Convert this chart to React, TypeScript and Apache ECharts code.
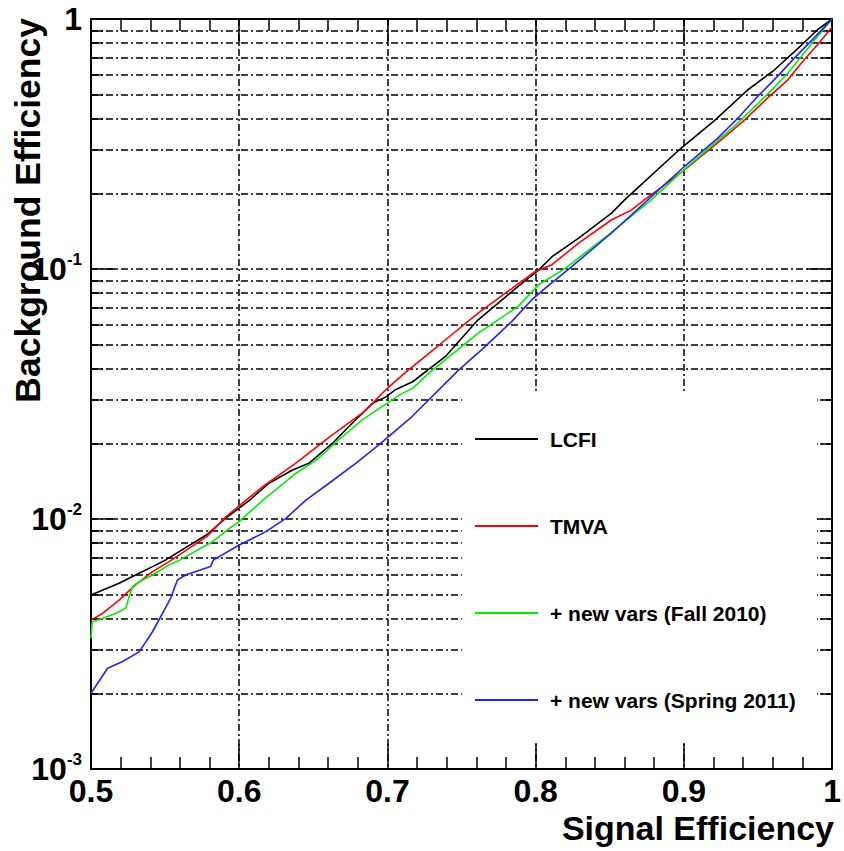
import React, { useEffect, useRef } from 'react';
import * as echarts from 'echarts';

// Signal efficiency (x) vs background efficiency (y)
const lcfi: [number, number][] = [
  [0.5, 0.00497], [0.508, 0.0052], [0.519, 0.00553], [0.530, 0.00597], [0.5415, 0.00645],
  [0.5504, 0.00686], [0.5778, 0.00863], [0.5912, 0.0101], [0.607, 0.0119], [0.620, 0.0139],
  [0.636, 0.0157], [0.647, 0.0167], [0.663, 0.0201], [0.676, 0.0241], [0.690, 0.029],
  [0.699, 0.0308], [0.705, 0.0328], [0.717, 0.0354], [0.739, 0.0446], [0.761, 0.0625],
  [0.788, 0.085], [0.802, 0.099], [0.811, 0.112], [0.829, 0.133], [0.851, 0.167],
  [0.860, 0.189], [0.898, 0.304], [0.921, 0.394], [0.943, 0.52], [0.961, 0.625],
  [0.977, 0.763], [0.990, 0.904], [1.0, 1.0],
];
const tmva: [number, number][] = [
  [0.5, 0.00394], [0.508, 0.0042], [0.519, 0.00474], [0.530, 0.00545], [0.5415, 0.00616],
  [0.553, 0.00677], [0.578, 0.0085], [0.591, 0.0102], [0.602, 0.01156], [0.616, 0.0135],
  [0.638, 0.0167], [0.661, 0.0213], [0.683, 0.0265], [0.701, 0.0338], [0.714, 0.0394],
  [0.728, 0.046], [0.739, 0.052], [0.761, 0.0665], [0.784, 0.0837], [0.7995, 0.0975],
  [0.811, 0.104], [0.829, 0.127], [0.851, 0.157], [0.8645, 0.172], [0.8734, 0.189],
  [0.900, 0.248], [0.923, 0.32], [0.941, 0.395], [0.956, 0.48], [0.970, 0.57],
  [0.981, 0.686], [0.990, 0.787], [0.9966, 0.877], [1.0, 0.93],
];
const fall2010: [number, number][] = [
  [0.5, 0.00333], [0.5008, 0.00388], [0.508, 0.00401], [0.517, 0.0042], [0.5235, 0.0044],
  [0.5257, 0.00489], [0.528, 0.00536], [0.5325, 0.00561], [0.5415, 0.00597], [0.5526, 0.00655],
  [0.560, 0.00686], [0.582, 0.00811], [0.5934, 0.00918], [0.600, 0.00976], [0.616, 0.0119],
  [0.638, 0.0152], [0.652, 0.0172], [0.667, 0.0207], [0.683, 0.0249], [0.696, 0.0281],
  [0.710, 0.0318], [0.717, 0.0333], [0.728, 0.0383], [0.739, 0.0433], [0.761, 0.0553],
  [0.788, 0.0707], [0.802, 0.0865], [0.820, 0.1006], [0.849, 0.137], [0.878, 0.189],
  [0.900, 0.249], [0.918, 0.308], [0.936, 0.382], [0.956, 0.497], [0.970, 0.607],
  [0.981, 0.729], [0.990, 0.85], [1.0, 1.0],
];
const spring2011: [number, number][] = [
  [0.5, 0.00201], [0.5112, 0.00253], [0.5213, 0.00269], [0.5325, 0.00294], [0.5415, 0.00354],
  [0.5538, 0.00483], [0.5583, 0.0057], [0.5638, 0.00597], [0.5806, 0.00645], [0.5827, 0.00686],
  [0.600, 0.00787], [0.618, 0.0089], [0.6315, 0.01006], [0.645, 0.0119], [0.6606, 0.0139],
  [0.6786, 0.0167], [0.6942, 0.0198], [0.7166, 0.0257], [0.748, 0.0394], [0.7659, 0.0489],
  [0.7838, 0.0616], [0.7973, 0.0752], [0.8063, 0.0837], [0.8241, 0.102], [0.851, 0.139],
  [0.8757, 0.189], [0.9003, 0.257], [0.9227, 0.333], [0.9362, 0.40], [0.9496, 0.489],
  [0.963, 0.588], [0.9743, 0.696], [0.9854, 0.812], [1.0, 1.0],
];

const seriesNames = ['LCFI', 'TMVA', '+ new vars (Fall 2010)', '+ new vars (Spring 2011)'];
const seriesColors = ['#000000', '#ff0000', '#00ee00', '#2222ff'];
const seriesData = [lcfi, tmva, fall2010, spring2011];

const yDecades = [0.001, 0.01, 0.1, 1];
const yMinors = [
  0.002, 0.003, 0.004, 0.005, 0.006, 0.007, 0.008, 0.009,
  0.02, 0.03, 0.04, 0.05, 0.06, 0.07, 0.08, 0.09,
  0.2, 0.3, 0.4, 0.5, 0.6, 0.7, 0.8, 0.9,
];
const xTitle = 'Signal Efficiency';
const yTitle = 'Background Efficiency';

const FONT = '"Liberation Sans", Arial, Helvetica, sans-serif';
const DASHDOT = [7, 3, 2, 3];

export default function App() {
  const ref = useRef<HTMLDivElement>(null);
  useEffect(() => {
    if (!ref.current) return;
    const chart = echarts.init(ref.current, undefined, { renderer: 'svg' });
    const frameLine = { show: true, onZero: false, lineStyle: { color: '#000', width: 2 } };
    const gridLine = { show: true, lineStyle: { color: '#000', width: 1.5, type: DASHDOT } };
    const yBase = {
      type: 'log' as const, logBase: 10, min: 0.001, max: 1,
      axisLine: frameLine,
    };
    const option: any = {
      animation: false,
      backgroundColor: '#fff',
      grid: { left: 91, top: 19, right: 9, bottom: 82, containLabel: false },
      xAxis: [
        {
          type: 'value', min: 0.5, max: 1, interval: 0.1, position: 'bottom',
          axisLine: frameLine,
          axisTick: { show: true, inside: true, length: 25, lineStyle: { color: '#000', width: 1.5 } },
          minorTick: { show: true, splitNumber: 5, length: 12, lineStyle: { color: '#000', width: 1.5 } },
          splitLine: gridLine,
          axisLabel: {
            show: true, margin: 6, color: '#000', fontFamily: FONT, fontWeight: 'bold', fontSize: 32,
            lineHeight: 32, showMinLabel: true, showMaxLabel: true,
            formatter: (v: number) => (v === 1 ? '1' : v.toFixed(1)),
          },
        },
        {
          type: 'value', min: 0.5, max: 1, interval: 0.1, position: 'top',
          axisLine: frameLine,
          axisTick: { show: true, inside: true, length: 25, lineStyle: { color: '#000', width: 1.5 } },
          minorTick: { show: true, splitNumber: 5, length: 12, lineStyle: { color: '#000', width: 1.5 } },
          splitLine: { show: false },
          axisLabel: { show: false },
        },
      ],
      yAxis: [
        {
          ...yBase, position: 'left',
          axisTick: { show: true, inside: true, length: 25, customValues: yDecades, lineStyle: { color: '#000', width: 1.5 } },
          splitLine: gridLine,
          axisLabel: {
            show: true, margin: 9, customValues: yDecades, color: '#000', fontFamily: FONT,
            fontWeight: 'bold', showMinLabel: true, showMaxLabel: true,
            formatter: (v: number) => {
              if (Math.abs(v - 1) < 1e-9) return '{b|1}';
              const e = Math.round(Math.log10(v));
              return `{b|10}{s|${e}}`;
            },
            rich: {
              b: { fontSize: 32, lineHeight: 36, fontWeight: 'bold', fontFamily: FONT, color: '#000' },
              s: { fontSize: 17, lineHeight: 28, fontWeight: 'bold', fontFamily: FONT, color: '#000', verticalAlign: 'top' },
            },
          },
        },
        {
          ...yBase, position: 'left',
          axisTick: { show: true, inside: true, length: 12, customValues: yMinors, lineStyle: { color: '#000', width: 1.5 } },
          splitLine: gridLine,
          axisLabel: { show: false, customValues: yMinors },
        },
        {
          ...yBase, position: 'right',
          axisTick: { show: true, inside: true, length: 25, customValues: yDecades, lineStyle: { color: '#000', width: 1.5 } },
          splitLine: { show: false },
          axisLabel: { show: false, customValues: yDecades },
        },
        {
          ...yBase, position: 'right',
          axisTick: { show: true, inside: true, length: 12, customValues: yMinors, lineStyle: { color: '#000', width: 1.5 } },
          splitLine: { show: false },
          axisLabel: { show: false, customValues: yMinors },
        },
      ],
      legend: {
        data: seriesNames,
        orient: 'vertical', left: 475, top: 427, padding: 0,
        icon: 'rect', itemWidth: 63, itemHeight: 2, itemGap: 63, z: 60,
        selectedMode: false,
        textStyle: { fontSize: 21, fontWeight: 'bold', fontFamily: FONT, color: '#000', lineHeight: 24, padding: [0, 0, 0, 7] },
      },
      graphic: [
        { type: 'rect', z: 50, shape: { x: 462, y: 393, width: 355, height: 350 }, style: { fill: '#fff' } },
        {
          type: 'text', x: 834, y: 828, z: 10,
          style: { text: xTitle, fill: '#000', font: `bold 34px ${FONT}`, textAlign: 'right', textVerticalAlign: 'middle' },
        },
        {
          type: 'text', x: 28, y: 18, rotation: Math.PI / 2, z: 10,
          style: { text: yTitle, fill: '#000', font: `bold 35.5px ${FONT}`, textAlign: 'right', textVerticalAlign: 'middle' },
        },
      ],
      series: seriesNames.map((name, i) => ({
        name, type: 'line', xAxisIndex: 0, yAxisIndex: 0,
        data: seriesData[i], symbol: 'none', showSymbol: false, smooth: false,
        lineStyle: { color: seriesColors[i], width: 1.6 },
        itemStyle: { color: seriesColors[i] },
        z: 5,
      })),
    };
    chart.setOption(option);
    return () => chart.dispose();
  }, []);
  return <div ref={ref} style={{ position: 'absolute', left: 0, top: 0, width: 844, height: 851 }} />;
}
